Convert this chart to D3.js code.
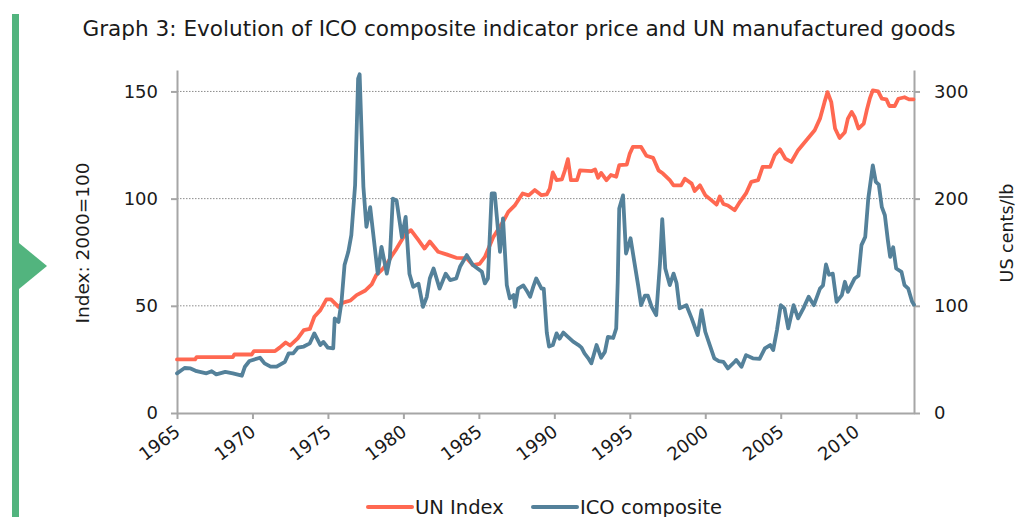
<!DOCTYPE html>
<html>
<head>
<meta charset="utf-8">
<script src="https://cdn.jsdelivr.net/npm/d3@7"></script>
<style>
  body { margin: 0; background: #fff; }
  svg text { font-family: "DejaVu Sans", sans-serif; fill: #1a1a1a; }
</style>
</head>
<body>
<div id="graf"></div>
<script>
// datos (anio decimal, valor)
unYears = [1965.0, 1966.2, 1966.3, 1968.7, 1968.8, 1969.95, 1970.1, 1971.5, 1971.8, 1972.2, 1972.5, 1973.0, 1973.4, 1973.8, 1974.1, 1974.5, 1974.9, 1975.2, 1975.7, 1976.0, 1976.5, 1976.9, 1977.45, 1977.9, 1978.2, 1978.6, 1978.9, 1979.2, 1979.55, 1980.0, 1980.2, 1980.5, 1981.0, 1981.4, 1981.75, 1982.3, 1982.85, 1983.5, 1984.2, 1984.6, 1985.05, 1985.4, 1985.95, 1986.6, 1986.95, 1987.4, 1987.9, 1988.3, 1988.7, 1989.15, 1989.5, 1989.7, 1989.9, 1990.15, 1990.5, 1990.7, 1990.9, 1991.1, 1991.5, 1991.7, 1992.45, 1992.7, 1992.9, 1993.1, 1993.45, 1993.75, 1994.1, 1994.3, 1994.8, 1995.0, 1995.2, 1995.75, 1996.1, 1996.55, 1996.9, 1997.2, 1997.65, 1997.9, 1998.4, 1998.65, 1999.1, 1999.3, 1999.65, 2000.0, 2000.4, 2000.75, 2000.96, 2001.2, 2001.5, 2001.95, 2002.3, 2002.7, 2003.05, 2003.5, 2003.8, 2004.3, 2004.6, 2004.95, 2005.3, 2005.7, 2006.15, 2006.7, 2007.25, 2007.6, 2007.9, 2008.1, 2008.35, 2008.6, 2008.9, 2009.25, 2009.45, 2009.7, 2009.9, 2010.15, 2010.5, 2010.7, 2010.9, 2011.1, 2011.45, 2011.7, 2012.0, 2012.2, 2012.55, 2012.8, 2013.2, 2013.5, 2013.8]
unValues = [25, 25, 26.1, 26.1, 27.3, 27.3, 28.9, 28.9, 30.5, 32.9, 31.5, 34.8, 38.7, 39.2, 44.9, 48, 53, 53, 49.5, 51.5, 52.5, 55, 57, 60, 64.3, 67, 69.5, 73, 76.7, 82, 83.7, 85.3, 80.6, 76.7, 80, 75.2, 74, 72.4, 72.2, 69, 69.6, 72.8, 82, 89.2, 93.8, 97, 102.4, 101.5, 104, 101.6, 102, 104.7, 112.2, 108.6, 109, 113.2, 118.4, 108.6, 108.6, 113.2, 112.8, 113.6, 109.7, 112, 108.6, 111, 110.2, 115.6, 115.9, 121, 124.1, 124.1, 120, 119, 113.2, 111.7, 108.6, 106.2, 106.2, 109.3, 107, 103.6, 106.2, 101.6, 99.3, 97.2, 101, 97.5, 96.8, 94.6, 98.5, 102.4, 107.8, 108.6, 114.8, 114.8, 120.2, 123, 118.7, 117.1, 122.6, 127.2, 131.9, 137.3, 145, 149.7, 145, 132.7, 128.3, 131, 137.3, 140.4, 138, 132.7, 135, 141.2, 146.6, 150.5, 150, 146.6, 146.3, 143.2, 143.2, 146.6, 147.3, 146.3, 146.3]

icoYears = [1965.0, 1965.2, 1965.5, 1965.9, 1966.3, 1966.95, 1967.3, 1967.6, 1968.2, 1968.7, 1969.3, 1969.5, 1969.8, 1970.5, 1970.8, 1971.2, 1971.6, 1972.15, 1972.4, 1972.7, 1973.0, 1973.4, 1973.8, 1974.1, 1974.5, 1974.7, 1975.0, 1975.35, 1975.45, 1975.7, 1975.9, 1976.1, 1976.35, 1976.55, 1976.8, 1977.0, 1977.1, 1977.35, 1977.55, 1977.8, 1978.1, 1978.3, 1978.55, 1978.9, 1979.1, 1979.3, 1979.55, 1979.9, 1980.15, 1980.4, 1980.65, 1981.0, 1981.3, 1981.55, 1981.75, 1982.0, 1982.4, 1982.8, 1983.1, 1983.5, 1983.75, 1984.2, 1984.6, 1985.2, 1985.4, 1985.6, 1985.85, 1986.05, 1986.4, 1986.6, 1986.85, 1987.05, 1987.3, 1987.4, 1987.6, 1987.95, 1988.15, 1988.4, 1988.6, 1988.8, 1989.15, 1989.3, 1989.5, 1989.65, 1989.9, 1990.15, 1990.35, 1990.6, 1990.9, 1991.25, 1991.6, 1991.8, 1992.0, 1992.25, 1992.45, 1992.8, 1993.1, 1993.35, 1993.55, 1993.9, 1994.1, 1994.2, 1994.3, 1994.55, 1994.75, 1995.05, 1995.3, 1995.55, 1995.75, 1996.0, 1996.2, 1996.45, 1996.75, 1997.0, 1997.15, 1997.35, 1997.65, 1997.9, 1998.1, 1998.3, 1998.75, 1999.1, 1999.5, 1999.75, 2000.0, 2000.3, 2000.6, 2000.9, 2001.2, 2001.5, 2001.95, 2002.05, 2002.4, 2002.7, 2003.15, 2003.6, 2003.95, 2004.3, 2004.5, 2004.75, 2005.0, 2005.25, 2005.5, 2005.85, 2006.15, 2006.5, 2006.85, 2007.2, 2007.6, 2007.8, 2008.0, 2008.2, 2008.45, 2008.7, 2009.05, 2009.25, 2009.45, 2009.9, 2010.15, 2010.35, 2010.6, 2010.8, 2011.1, 2011.3, 2011.5, 2011.7, 2011.9, 2012.1, 2012.25, 2012.45, 2012.65, 2013.0, 2013.2, 2013.45, 2013.7, 2013.83]
icoValues = [37, 39, 42, 41.6, 39, 37, 39, 36, 38.4, 37, 34.8, 43.2, 48.5, 51.6, 46.3, 43.2, 43.2, 47.8, 55.6, 55.6, 60.9, 62, 65, 74.3, 63.4, 66.3, 60.9, 60.3, 88.3, 85, 103.7, 138, 150.4, 166, 212.5, 312, 316, 211, 173.6, 192, 155, 130, 155, 130, 144, 200, 198, 164, 183, 130, 117.7, 120.6, 99, 108.4, 125.5, 134.8, 116, 130, 124, 125.5, 136.4, 147.3, 138, 131.7, 120.9, 125.5, 204.8, 204.8, 150.4, 181.5, 119.3, 107, 110, 99, 116, 119, 114.6, 108.4, 117.7, 125.5, 116, 116, 75, 62, 63.4, 74.3, 69.3, 75, 71, 66.5, 63.4, 61, 55.6, 51, 46.3, 63.4, 51.6, 57, 71, 70, 79, 122, 190.7, 203, 148.8, 163, 141, 119.3, 100.6, 109.4, 109.4, 99, 91.3, 139.5, 180.8, 134.8, 119.3, 130, 121, 97.6, 100.6, 88.3, 72.7, 96, 75.8, 63.4, 51, 48.5, 47.8, 41.6, 47.8, 49.4, 43.2, 54, 51, 50.5, 60.3, 63.4, 58.7, 77.4, 100.6, 97.6, 79, 100.6, 88.3, 97.6, 108.4, 100.6, 116, 119, 138.6, 129, 130, 103.7, 110, 122.4, 113, 125.5, 128, 156.6, 164.3, 200, 231, 215.6, 213, 192, 184.5, 161, 145.7, 154.6, 134.8, 131.7, 119.3, 116, 104, 101]

xTicks = [1965, 1970, 1975, 1980, 1985, 1990, 1995, 2000, 2005, 2010]
leftTicks = [0, 50, 100, 150]
rightTicks = [0, 100, 200, 300]
gridTicks = [50, 100, 150]

seriesNames = ['UN Index', 'ICO composite']
colores = ['#ff6851', '#54819a']

unData = unYears.map((d, i) => ({ year: d, value: unValues[i] }))
icoData = icoYears.map((d, i) => ({ year: d, value: icoValues[i] }))

// Configuracion
ancho_total = 1016
alto_total = 517
margins = { top: 70, left: 177, right: 102, bottom: 104 }
ancho = ancho_total - margins.left - margins.right
alto = alto_total - margins.top - margins.bottom

svg = d3.select('#graf').append('svg')
        .attr('width', ancho_total)
        .attr('height', alto_total)

// barra verde lateral
svg.append('rect').attr('x', 12).attr('y', 14).attr('width', 7).attr('height', alto_total - 14)
        .attr('fill', '#52b47e')
svg.append('path').attr('d', 'M19,243 L47,266 L19,289 Z').attr('fill', '#52b47e')

svg.append('text')
        .attr('x', 519).attr('y', 36)
        .attr('text-anchor', 'middle')
        .style('font-size', '21.6px')
        .text('Graph 3: Evolution of ICO composite indicator price and UN manufactured goods')

g = svg.append('g')
        .attr('transform', `translate(${margins.left}, ${margins.top})`)

// Escaladores
x = d3.scaleLinear().domain([1965, 2013.83]).range([0, ancho])
yL = d3.scaleLinear().domain([0, 160]).range([alto, 0])
yR = d3.scaleLinear().domain([0, 320]).range([alto, 0])

// grilla punteada
g.selectAll('.grid').data(gridTicks).enter().append('line')
        .attr('x1', 0).attr('x2', ancho)
        .attr('y1', d => yL(d)).attr('y2', d => yL(d))
        .attr('stroke', '#8c8c8c').attr('stroke-width', 1)
        .attr('stroke-dasharray', '1.5,1.5')

function estiloEje(sel) {
        sel.select('.domain').attr('stroke', '#a6a6a6').attr('stroke-width', 2)
        sel.selectAll('.tick line').attr('stroke', '#a6a6a6').attr('stroke-width', 2)
        sel.selectAll('.tick text').style('font-size', '18px').attr('fill', '#1a1a1a')
}

ejeX = g.append('g')
        .attr('transform', `translate(0, ${alto})`)
        .call(d3.axisBottom(x).tickValues(xTicks).tickFormat(d3.format('d')).tickSize(6).tickSizeOuter(0))
ejeX.call(estiloEje)
ejeX.selectAll('.tick text')
        .attr('text-anchor', 'end')
        .attr('dy', 0)
        .attr('y', 0)
        .attr('transform', 'translate(4, 21) rotate(-37)')

ejeL = g.append('g')
        .call(d3.axisLeft(yL).tickValues(leftTicks).tickSize(6).tickSizeOuter(0).tickPadding(13))
ejeL.call(estiloEje)

ejeR = g.append('g')
        .attr('transform', `translate(${ancho}, 0)`)
        .call(d3.axisRight(yR).tickValues(rightTicks).tickSize(6).tickSizeOuter(0).tickPadding(14))
ejeR.call(estiloEje)

// lineas
linea = d3.line().x(d => x(d.year))

g.append('path').datum(unData)
        .attr('fill', 'none').attr('stroke', colores[0]).attr('stroke-width', 3.8)
        .attr('stroke-linejoin', 'round').attr('stroke-linecap', 'round')
        .attr('d', linea.y(d => yL(d.value)))

g.append('path').datum(icoData)
        .attr('fill', 'none').attr('stroke', colores[1]).attr('stroke-width', 3.8)
        .attr('stroke-linejoin', 'round').attr('stroke-linecap', 'round')
        .attr('d', linea.y(d => yR(d.value)))

// titulos de ejes
svg.append('text')
        .attr('transform', 'translate(89, 243) rotate(-90)')
        .attr('text-anchor', 'middle')
        .style('font-size', '18.5px')
        .text('Index: 2000=100')

svg.append('text')
        .attr('transform', 'translate(1013, 233) rotate(-90)')
        .attr('text-anchor', 'middle')
        .style('font-size', '17.5px')
        .text('US cents/lb')

// leyenda
leyX = [368, 533]
leyenda = svg.selectAll('.ley').data(seriesNames).enter().append('g')
        .attr('transform', (d, i) => `translate(${leyX[i]}, 507)`)
leyenda.append('line').attr('x1', 0).attr('x2', 44)
        .attr('stroke', (d, i) => colores[i]).attr('stroke-width', 4).attr('stroke-linecap', 'round')
leyenda.append('text').attr('x', 47).attr('y', 6.5)
        .style('font-size', '19.5px')
        .text(d => d)
</script>
</body>
</html>
